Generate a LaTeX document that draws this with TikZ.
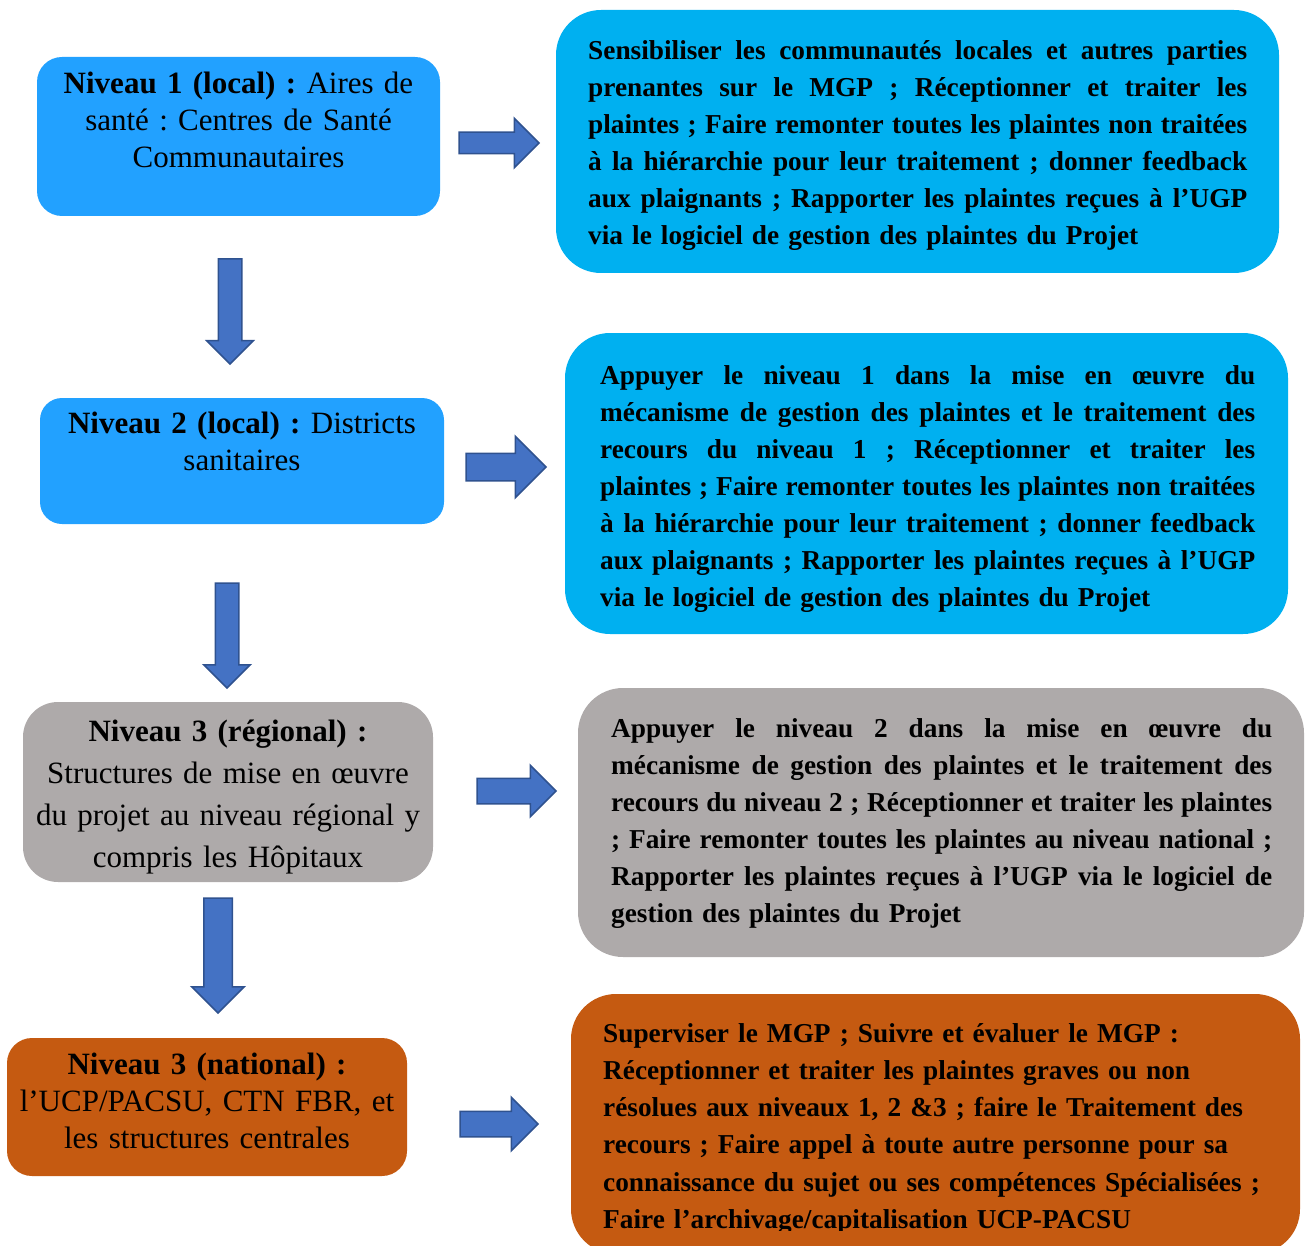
\documentclass[tikz,border=0pt]{standalone}
\usepackage{fontspec}
\setmainfont{Liberation Serif}
\usetikzlibrary{shapes.arrows}
\definecolor{lblue}{HTML}{22A1FF}
\definecolor{cyanbox}{HTML}{00B0F0}
\definecolor{graybox}{HTML}{AEAAAA}
\definecolor{orangebox}{HTML}{C55A11}
\definecolor{arrowblue}{HTML}{4472C4}
\definecolor{arrowdark}{HTML}{2F528F}
\newcommand\jline[2]{\noindent\hbox to #1{\spaceskip=.25em plus 1fil minus .09em\relax\strut#2}\par}
\newcommand\lastline[1]{\noindent\hbox{\strut#1}\par}
\begin{document}
\begin{tikzpicture}[x=1pt,y=-1pt,
  panel/.style={rectangle, inner sep=0pt, outer sep=0pt, rounded corners=#1},
  ltext/.style={inner sep=0pt, anchor=north, align=center, font=\fontsize{31}{37}\selectfont\frenchspacing},
  rtext/.style={inner sep=0pt, anchor=north west, font=\fontsize{27.3}{37}\selectfont\bfseries\frenchspacing},
  barrow/.style 2 args={single arrow, draw=arrowdark, fill=arrowblue, line width=1.5pt,
     inner xsep=0pt, inner ysep=#1, single arrow head extend=#2, minimum width=0pt, outer sep=0pt, anchor=tip}]
\useasboundingbox (0,0) rectangle (1305,1246);

% left boxes
\node[panel=25, fill=lblue, minimum width=403pt, minimum height=159pt] (l1) at (238.5,136.5) {};
\node[panel=22, fill=lblue, minimum width=404pt, minimum height=126pt] (l2) at (242,461) {};
\node[panel=35, fill=graybox, minimum width=410pt, minimum height=180pt] (l3) at (228,792) {};
\node[panel=25, fill=orangebox, minimum width=400pt, minimum height=138pt] (l4) at (207,1107) {};

% right boxes
\node[panel=45, fill=cyanbox, minimum width=723pt, minimum height=263pt] (r1) at (917.5,141.5) {};
\node[panel=45, fill=cyanbox, minimum width=723pt, minimum height=301pt] (r2) at (926.5,483.5) {};
\node[panel=45, fill=graybox, minimum width=726pt, minimum height=269pt] (r3) at (941,822.5) {};
\node[panel=45, fill=orangebox, minimum width=729pt, minimum height=260pt] (r4) at (935.5,1124) {};

% left texts
\node[ltext, text width=400pt] (t1) at (238.5,67.1)
  {\strut\textbf{Niveau 1 (local) :} Aires de\\santé : Centres de Santé\\Communautaires};
\node[ltext, text width=400pt] (t2) at (242,407.1)
  {\strut\textbf{Niveau 2 (local) :} Districts\\sanitaires};
\node[ltext, text width=405pt, font=\fontsize{31}{42}\selectfont\frenchspacing] (t3) at (228,711.6)
  {\strut\textbf{Niveau 3 (régional) :}\\Structures de mise en œuvre\\du projet au niveau régional y\\compris les Hôpitaux};
\node[ltext, text width=398pt] (t4) at (207,1048.1)
  {\strut\textbf{Niveau 3 (national) :}\\l’UCP/PACSU, CTN FBR, et\\les structures centrales};

% right texts
\node[rtext, text width=659pt] (s1) at (588,33.1) {%
\jline{659pt}{Sensibiliser les communautés locales et autres parties}%
\jline{659pt}{prenantes sur le MGP ; Réceptionner et traiter les}%
\jline{659pt}{plaintes ; Faire remonter toutes les plaintes non traitées}%
\jline{659pt}{à la hiérarchie pour leur traitement ; donner feedback}%
\jline{659pt}{aux plaignants ; Rapporter les plaintes reçues à l’UGP}%
\lastline{via le logiciel de gestion des plaintes du Projet}};

\node[rtext, text width=655pt] (s2) at (600,358.1) {%
\jline{655pt}{Appuyer le niveau 1 dans la mise en œuvre du}%
\jline{655pt}{mécanisme de gestion des plaintes et le traitement des}%
\jline{655pt}{recours du niveau 1 ; Réceptionner et traiter les}%
\jline{655pt}{plaintes ; Faire remonter toutes les plaintes non traitées}%
\jline{655pt}{à la hiérarchie pour leur traitement ; donner feedback}%
\jline{655pt}{aux plaignants ; Rapporter les plaintes reçues à l’UGP}%
\lastline{via le logiciel de gestion des plaintes du Projet}};

\node[rtext, text width=661pt] (s3) at (611,711.1) {%
\jline{661pt}{Appuyer le niveau 2 dans la mise en œuvre du}%
\jline{661pt}{mécanisme de gestion des plaintes et le traitement des}%
\jline{661pt}{recours du niveau 2 ; Réceptionner et traiter les plaintes}%
\jline{661pt}{; Faire remonter toutes les plaintes au niveau national ;}%
\jline{661pt}{Rapporter les plaintes reçues à l’UGP via le logiciel de}%
\lastline{gestion des plaintes du Projet}};

\begin{scope}
\clip (571,994) rectangle (1300,1230);
\node[rtext, text width=680pt, font=\fontsize{27.3}{37.2}\selectfont\bfseries\frenchspacing] (s4) at (603,1016) {%
\lastline{Superviser le MGP ; Suivre et évaluer le MGP :}%
\lastline{Réceptionner et traiter les plaintes graves ou non}%
\lastline{résolues aux niveaux 1, 2 \&3 ; faire le Traitement des}%
\lastline{recours ; Faire appel à toute autre personne pour sa}%
\lastline{connaissance du sujet ou ses compétences Spécialisées ;}%
\lastline{Faire l’archivage/capitalisation UCP-PACSU}};
\end{scope}

% right block arrows (placed by their tips)
\node[barrow={10pt}{14pt}, minimum height=80pt] (a1) at (539,143) {};
\node[barrow={13pt}{17pt}, minimum height=80pt] (a2) at (546,467) {};
\node[barrow={12pt}{13pt}, minimum height=79pt] (a3) at (556,791) {};
\node[barrow={12pt}{14pt}, minimum height=78pt] (a4) at (538,1124) {};

% down block arrows (placed by their tips)
\node[barrow={11pt}{11.5pt}, minimum height=105pt, rotate=-90] (d1) at (230,364) {};
\node[barrow={11pt}{11.5pt}, minimum height=105pt, rotate=-90] (d2) at (227,688) {};
\node[barrow={13.5pt}{12pt}, minimum height=115pt, rotate=-90] (d3) at (218,1013) {};
\end{tikzpicture}
\end{document}
